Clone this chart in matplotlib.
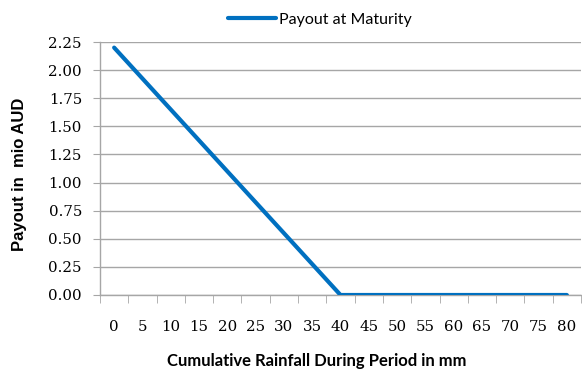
import matplotlib
matplotlib.use("Agg")
import matplotlib.pyplot as plt
import numpy as np

rainfall = [0, 5, 10, 15, 20, 25, 30, 35, 40, 45, 50, 55, 60, 65, 70, 75, 80]
payout = [2.2, 1.925, 1.65, 1.375, 1.1, 0.825, 0.55, 0.275, 0.0, 0.0, 0.0, 0.0, 0.0, 0.0, 0.0, 0.0, 0.0]
yticks = [0.0, 0.25, 0.5, 0.75, 1.0, 1.25, 1.5, 1.75, 2.0, 2.25]
series_name = "Payout at Maturity"

W, H = 582, 373
fig = plt.figure(figsize=(W / 100, H / 100), dpi=100)
ax = fig.add_axes([100 / W, 1 - 295 / H, 481 / W, (295 - 42) / H])

blue = "#0070C0"
grid = "#A6A6A6"
line, = ax.plot(rainfall, payout, color=blue, lw=3, solid_capstyle="round", label=series_name, zorder=3)

ax.set_xlim(-2.5, 82.5)
ax.set_ylim(0, 2.25)
ax.set_yticks(yticks)
ax.set_yticklabels([f"{v:.2f}" for v in yticks], family="DejaVu Serif", fontsize=10.8)
ax.set_xticks(rainfall)
ax.set_xticklabels([str(v) for v in rainfall], family="DejaVu Serif", fontsize=10.8)
ax.set_xticks(np.arange(-2.5, 83, 5), minor=True)
ax.tick_params(axis="x", which="major", length=0, pad=18)
ax.tick_params(axis="x", which="minor", length=6, color=grid, direction="out")
ax.tick_params(axis="y", length=5, color=grid, pad=8)

ax.yaxis.grid(True, color=grid, lw=1)
ax.set_axisbelow(True)
for s in ["top", "right"]:
    ax.spines[s].set_visible(False)
for s in ["left", "bottom"]:
    ax.spines[s].set_color(grid)
    ax.spines[s].set_linewidth(1)

fig.text(20 / W, 1 - 174 / H, "Payout in  mio AUD", rotation=90, ha="center", va="center",
         family="Liberation Sans", fontweight="bold", fontsize=12)
fig.text(317 / W, 1 - 361 / H, "Cumulative Rainfall During Period in mm", ha="center", va="center",
         family="Lato", fontweight="bold", fontsize=12)

leg = fig.legend(handles=[line], loc="center", bbox_to_anchor=(320 / W, 1 - 20 / H), frameon=False,
                 prop={"family": "Lato", "size": 11.5}, handlelength=3, handletextpad=0.2)

fig.savefig("out.png", dpi=100)
